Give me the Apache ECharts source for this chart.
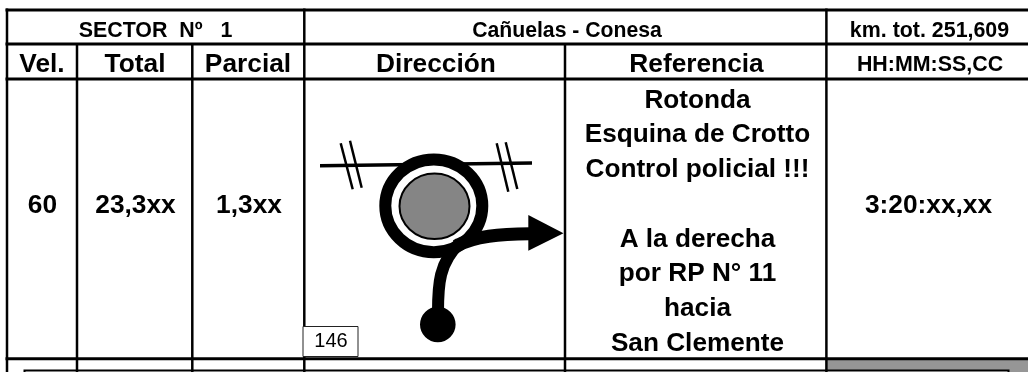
<!DOCTYPE html>
<html><head><meta charset="utf-8">
<style>html,body{margin:0;padding:0;background:#fff}#c{width:1028px;height:372px}</style>
<script src="https://cdn.jsdelivr.net/npm/echarts@6/dist/echarts.min.js"></script>
</head><body><div id="c"></div>
<script>
const titleRow = ['SECTOR  Nº   1', 'Cañuelas - Conesa', 'km. tot. 251,609'];
const headerRow = ['Vel.', 'Total', 'Parcial', 'Dirección', 'Referencia', 'HH:MM:SS,CC'];
const valueRow = ['60', '23,3xx', '1,3xx', '3:20:xx,xx'];
const referenceLines = ['Rotonda', 'Esquina de Crotto', 'Control policial !!!', '', 'A la derecha', 'por RP N° 11', 'hacia', 'San Clemente'];
const noteNumber = '146';

const F = '"Liberation Sans", Arial, sans-serif';
const chart = echarts.init(document.getElementById('c'), null, {renderer: 'canvas'});
const g = [];
function line(x1, y1, x2, y2, w, c) { g.push({type: 'line', shape: {x1, y1, x2, y2}, style: {stroke: c || '#000', lineWidth: w}}); }
function txt(s, x, base, size, bold) {
  g.push({type: 'text', x, y: base, z: 10, style: {text: s, x: 0, y: 0, align: 'center', verticalAlign: 'bottom',
    font: (bold === false ? '' : 'bold ') + size + 'px ' + F, fill: '#000'}});
}
g.push({type: 'rect', shape: {x: 827, y: 360, width: 201, height: 12}, style: {fill: '#969696'}});
g.push({type: 'rect', shape: {x: 24.5, y: 370.5, width: 984, height: 6}, style: {fill: '#fff', stroke: '#000', lineWidth: 2}});
line(5.5, 10, 1028, 10, 3); line(5.5, 44, 1028, 44, 3); line(5.5, 79, 1028, 79, 3); line(5.5, 358.7, 1028, 358.7, 3);
line(7, 8.5, 7, 372, 2.5); line(77, 44, 77, 372, 2.5); line(192.3, 44, 192.3, 372, 2.5);
line(304.3, 8.5, 304.3, 372, 2.5); line(565, 44, 565, 372, 2.5); line(826.4, 8.5, 826.4, 372, 2.5);
const o = 6;
txt(titleRow[0], 155.5, 37 + 5, 21.4); txt(titleRow[1], 567, 37 + 5, 21.2); txt(titleRow[2], 929.5, 37 + 5, 21.4);
const hx = [42, 135, 248, 436, 696.5, 930], hs = [26.3, 26.3, 26.3, 26.3, 26.3, 21.4];
headerRow.forEach((t, i) => txt(t, hx[i], i == 5 ? 71 + 5 : 72 + o, hs[i]));
txt(valueRow[0], 42.5, 212.5 + o, 26.3); txt(valueRow[1], 135.5, 212.5 + o, 26.3); txt(valueRow[2], 249, 212.5 + o, 26.3); txt(valueRow[3], 928.5, 212.5 + o, 26.3);
const rb = [107.5, 142, 176.7, 211.5, 246.3, 281, 315.7, 350.4];
referenceLines.forEach((t, i) => { if (t) txt(t, 697.5, rb[i] + o, 26.2); });
line(320, 165.7, 532, 163, 3.5);
[[340.7, 143.3, 352.7, 189.3], [350, 140.7, 361.7, 187.7], [496.7, 143.3, 508.3, 191.7], [505.7, 142.3, 517.3, 189]].forEach(a => line(a[0], a[1], a[2], a[3], 2.5));
g.push({type: 'ellipse', shape: {cx: 433.8, cy: 205.8, rx: 48.5, ry: 46.4}, style: {fill: '#fff', stroke: '#000', lineWidth: 12}});
g.push({type: 'ellipse', shape: {cx: 434.5, cy: 206.3, rx: 35, ry: 32.7}, style: {fill: '#858585', stroke: '#000', lineWidth: 2}});
g.push({type: 'bezierCurve', shape: {x1: 438, y1: 312, cpx1: 438, cpy1: 285, cpx2: 439, cpy2: 262, x2: 460, y2: 243}, style: {stroke: '#000', lineWidth: 12, fill: 'none'}});
g.push({type: 'bezierCurve', shape: {x1: 456, y1: 246, cpx1: 475, cpy1: 236, cpx2: 500, cpy2: 234, x2: 530, y2: 233.7}, style: {stroke: '#000', lineWidth: 13, fill: 'none'}});
g.push({type: 'polygon', shape: {points: [[528.3, 215], [563.5, 233.3], [528.3, 250.7]]}, style: {fill: '#000'}});
g.push({type: 'circle', shape: {cx: 437.8, cy: 324.5, r: 17.8}, style: {fill: '#000'}});
g.push({type: 'rect', shape: {x: 303, y: 326.5, width: 55, height: 30}, z: 5, style: {fill: '#fff', stroke: '#222', lineWidth: 1}});
txt(noteNumber, 331, 347.5 + 4, 20, false);
chart.setOption({animation: false, graphic: {elements: g}});
</script></body></html>
